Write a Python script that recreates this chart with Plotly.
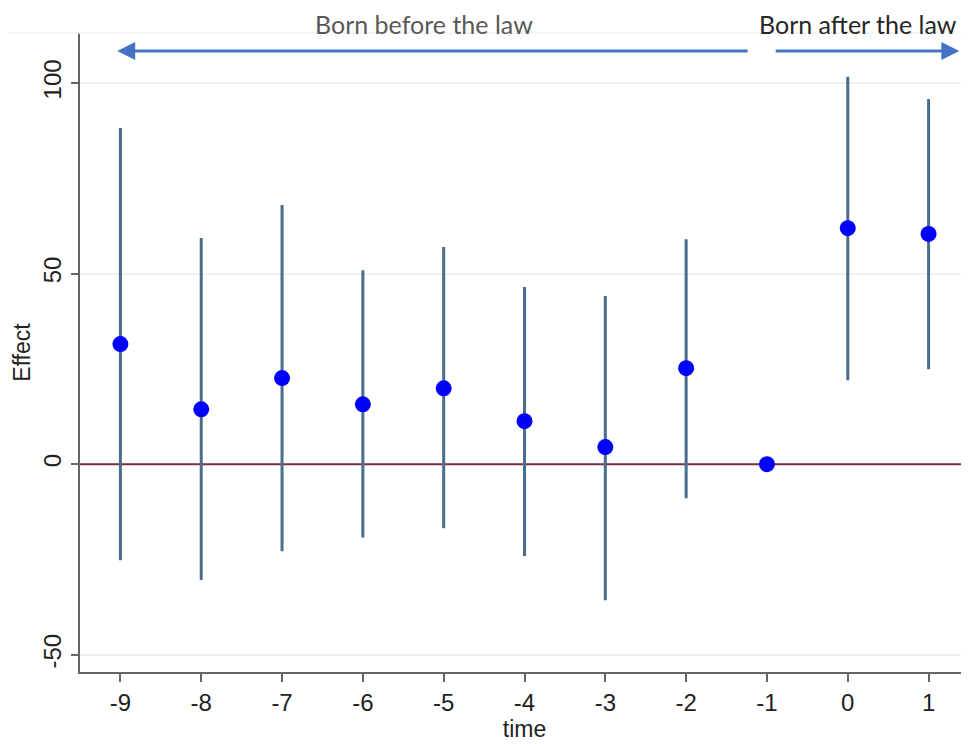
import plotly.graph_objects as go

time = [-9, -8, -7, -6, -5, -4, -3, -2, -1, 0, 1]
effect = [31.5, 14.4, 22.6, 15.7, 19.9, 11.3, 4.5, 25.2, 0.0, 61.9, 60.4]
ci_high = [88.2, 59.3, 68.0, 50.9, 57.0, 46.5, 44.1, 59.0, None, 101.6, 95.8]
ci_low = [-25.2, -30.4, -22.8, -19.2, -16.8, -24.1, -35.7, -8.9, None, 22.0, 24.9]
ytick_vals = [-50, 0, 50, 100]
ytick_text = ["-50", "0", "50", "100"]
xtick_vals = time
xtick_text = ["-9", "-8", "-7", "-6", "-5", "-4", "-3", "-2", "-1", "0", "1"]
x_range = [-9.5, 1.5]
y_range = [-54.5, 113.1]

fig = go.Figure()

# zero reference line
fig.add_trace(go.Scatter(x=x_range, y=[0, 0], mode="lines",
                         line=dict(color="#7a2f3f", width=2),
                         showlegend=False, hoverinfo="skip"))

# confidence interval spikes
for t, lo, hi in zip(time, ci_low, ci_high):
    if lo is None:
        continue
    fig.add_trace(go.Scatter(x=[t, t], y=[lo, hi], mode="lines",
                             line=dict(color="#4b6d8d", width=3),
                             showlegend=False, hoverinfo="skip"))

fig.add_trace(go.Scatter(x=time, y=effect, mode="markers",
                         marker=dict(color="#0000ff", size=16),
                         showlegend=False))

# faint top border
fig.add_shape(type="line", xref="paper", yref="paper", x0=-0.09, x1=1, y0=1, y1=1,
              line=dict(color="#f0f2f2", width=1.5))

tick_font = dict(family="Liberation Sans, Arial", size=24, color="#222222")
title_font = dict(family="Liberation Sans, Arial", size=23, color="#222222")

W, H = 961, 736
M_L, M_R, M_T, M_B = 72, 0, 25, 72

fig.update_layout(
    width=W, height=H,
    margin=dict(l=M_L, r=M_R, t=M_T, b=M_B, autoexpand=False),
    plot_bgcolor="white", paper_bgcolor="white",
    font=dict(family="Liberation Sans, Arial", size=18, color="#222222"),
    xaxis=dict(range=x_range, tickvals=xtick_vals, ticktext=xtick_text,
               ticks="outside", ticklen=8, automargin=False,
               tickcolor="#666666", tickwidth=1.5, showgrid=False, zeroline=False,
               showline=True, linecolor="#666666", linewidth=2,
               title=dict(text="time", standoff=0, font=title_font),
               tickfont=tick_font),
    yaxis=dict(range=y_range, tickvals=ytick_vals, ticktext=ytick_text,
               ticks="outside", ticklen=7, automargin=False,
               tickcolor="#666666", tickwidth=1.5, showgrid=True, gridcolor="#eaf2f3",
               gridwidth=1.5, zeroline=False, showline=True, linecolor="#666666",
               linewidth=2, tickangle=-90,
               title=dict(text="Effect", standoff=2, font=title_font),
               tickfont=tick_font),
)

# arrows
fig.add_annotation(x=-9.04, y=108.4, ax=-1.22, ay=108.4, xref="x", yref="y",
                   axref="x", ayref="y", text="", showarrow=True, arrowhead=2,
                   arrowsize=1.2, arrowwidth=3, arrowcolor="#4472c4")
fig.add_annotation(x=1.38, y=108.4, ax=-0.91, ay=108.4, xref="x", yref="y",
                   axref="x", ayref="y", text="", showarrow=True, arrowhead=2,
                   arrowsize=1.2, arrowwidth=3, arrowcolor="#4472c4")

plot_h = H - M_T - M_B
text_y = 1 + (M_T - 16.5) / plot_h
fig.add_annotation(x=-5.24, y=text_y, xref="x", yref="paper", text="Born before the law",
                   showarrow=False, yanchor="middle", borderpad=0,
                   font=dict(family="Lato, Noto Sans", size=25, color="#595959"))
fig.add_annotation(x=0.13, y=text_y, xref="x", yref="paper", text="Born after the law",
                   showarrow=False, yanchor="middle", borderpad=0,
                   font=dict(family="Lato, Noto Sans", size=25, color="#262626"))

fig.write_html("out.html")
